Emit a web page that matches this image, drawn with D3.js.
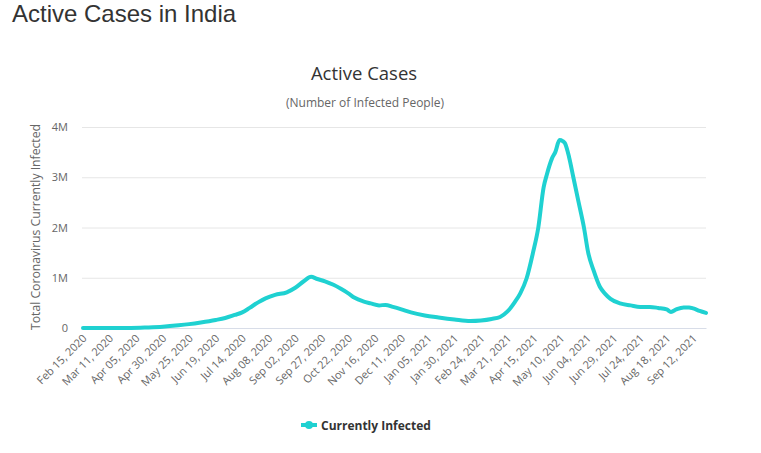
<!DOCTYPE html>
<html><head><meta charset="utf-8">
<script src="https://cdn.jsdelivr.net/npm/d3@7"></script>
<style>
html,body{margin:0;padding:0;background:#fff;}
svg{display:block;}
</style></head>
<body>
<svg id="c" width="761" height="453"></svg>
<script>
// ---- data ----
const dates = ["2020-02-15","2020-03-01","2020-03-15","2020-03-31","2020-04-15","2020-04-30","2020-05-15","2020-05-25","2020-06-05","2020-06-19","2020-06-28","2020-07-07","2020-07-14","2020-07-21","2020-07-29","2020-08-05","2020-08-14","2020-08-25","2020-09-02","2020-09-10","2020-09-17","2020-09-22","2020-09-30","2020-10-08","2020-10-15","2020-10-22","2020-10-28","2020-11-05","2020-11-12","2020-11-20","2020-11-26","2020-12-03","2020-12-11","2020-12-20","2021-01-02","2021-01-15","2021-01-30","2021-02-14","2021-02-24","2021-03-06","2021-03-14","2021-03-21","2021-03-28","2021-04-02","2021-04-08","2021-04-14","2021-04-19","2021-04-24","2021-04-27","2021-05-02","2021-05-05","2021-05-09","2021-05-12","2021-05-14","2021-05-18","2021-05-22","2021-05-27","2021-06-01","2021-06-05","2021-06-10","2021-06-16","2021-06-21","2021-06-26","2021-07-05","2021-07-15","2021-07-24","2021-08-02","2021-08-10","2021-08-18","2021-08-22","2021-08-27","2021-09-03","2021-09-08","2021-09-12","2021-09-18","2021-09-24"];
const activeCases = [3,3,100,1300,10500,25000,53000,77000,110000,160000,200000,260000,310000,400000,510000,590000,660000,710000,800000,930000,1020000,980000,930000,860000,780000,690000,600000,530000,490000,450000,460000,420000,370000,310000,250000,210000,170000,140000,150000,180000,220000,330000,520000,690000,990000,1500000,2000000,2800000,3050000,3380000,3500000,3740000,3720000,3680000,3400000,3000000,2500000,2000000,1500000,1150000,820000,680000,580000,490000,450000,420000,420000,400000,370000,320000,370000,410000,410000,390000,340000,300000];
const xTickLabels = ["Feb 15, 2020","Mar 11, 2020","Apr 05, 2020","Apr 30, 2020","May 25, 2020","Jun 19, 2020","Jul 14, 2020","Aug 08, 2020","Sep 02, 2020","Sep 27, 2020","Oct 22, 2020","Nov 16, 2020","Dec 11, 2020","Jan 05, 2021","Jan 30, 2021","Feb 24, 2021","Mar 21, 2021","Apr 15, 2021","May 10, 2021","Jun 04, 2021","Jun 29, 2021","Jul 24, 2021","Aug 18, 2021","Sep 12, 2021"];
const yTicks = [0,1000000,2000000,3000000,4000000];
const yTickLabels = ["0","1M","2M","3M","4M"];
const seriesName = "Currently Infected";

// ---- chart ----
const svg = d3.select("#c");
const font = "'Open Sans', sans-serif";
const lineColor = "#1fd1d1";
const parse = d3.utcParse("%Y-%m-%d");
const parseTick = d3.utcParse("%b %d, %Y");
const data = dates.map((d,i)=>({date:parse(d), v:activeCases[i]}));

const x = d3.scaleUtc().domain([parse("2020-02-15"), parse("2021-09-24")]).range([83, 706]);
const y = d3.scaleLinear().domain([0, 4000000]).range([328, 127]);

svg.append("text").attr("x",12).attr("y",22)
  .attr("font-family","'Liberation Sans', Arial, sans-serif").attr("font-size",24)
  .attr("fill","#333").text("Active Cases in India");

svg.append("text").attr("x",364).attr("y",80).attr("text-anchor","middle")
  .attr("font-family",font).attr("font-size",18.5).attr("fill","#333").text("Active Cases");
svg.append("text").attr("x",365).attr("y",107).attr("text-anchor","middle")
  .attr("font-family",font).attr("font-size",12).attr("fill","#666").text("(Number of Infected People)");

// grid + y axis
const yAxis = d3.axisLeft(y).tickValues(yTicks).tickSize(-(706-82))
  .tickFormat((d,i)=>yTickLabels[i]).tickPadding(14);
const gy = svg.append("g").attr("transform","translate(82,0)").call(yAxis);
gy.select(".domain").remove();
gy.selectAll(".tick line").attr("stroke","#e6e6e6");
gy.selectAll(".tick text").attr("font-family",font).attr("font-size",11).attr("fill","#666");

svg.append("text").attr("transform","translate(40,227) rotate(-90)")
  .attr("text-anchor","middle").attr("font-family",font).attr("font-size",12.2)
  .attr("fill","#666").text("Total Coronavirus Currently Infected");

// x axis
const xAxis = d3.axisBottom(x).tickValues(xTickLabels.map(parseTick))
  .tickFormat((d,i)=>xTickLabels[i]).tickSize(0);
const gx = svg.append("g").attr("transform","translate(0,328)").call(xAxis);
gx.select(".domain").attr("stroke","#d8dde8");
gx.selectAll(".tick text").attr("font-family",font).attr("font-size",11).attr("fill","#666")
  .attr("text-anchor","end").attr("dy",0).attr("y",0)
  .attr("transform","translate(4,11) rotate(-45)");

// line
const line = d3.line().x(d=>x(d.date)).y(d=>y(d.v)).curve(d3.curveMonotoneX);
svg.append("path").datum(data).attr("d",line).attr("fill","none")
  .attr("stroke",lineColor).attr("stroke-width",4).attr("stroke-linejoin","round").attr("stroke-linecap","round");

// legend
const lg = svg.append("g");
lg.append("line").attr("x1",301).attr("x2",317).attr("y1",425).attr("y2",425)
  .attr("stroke",lineColor).attr("stroke-width",4);
lg.append("circle").attr("cx",309).attr("cy",425).attr("r",4).attr("fill",lineColor);
lg.append("text").attr("x",321).attr("y",429.5).attr("font-family",font).attr("font-size",12)
  .attr("font-weight","bold").attr("fill","#333").text(seriesName);
</script>
</body></html>
